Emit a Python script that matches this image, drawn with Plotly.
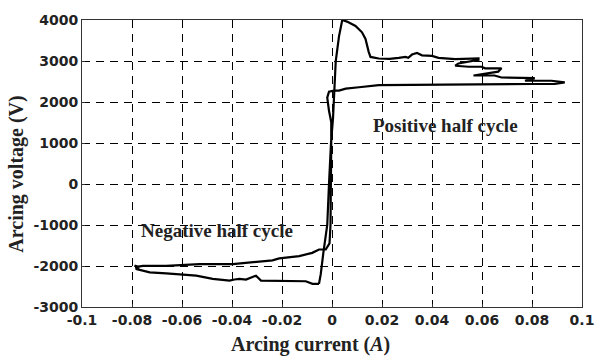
import plotly.graph_objects as go

# Arcing current (A) and arcing voltage (V) traced around the loop
current = [-0.0052, -0.0045, -0.0035, -0.0025, -0.0019, -0.0012, -0.0004, 0.0004, 0.0008, 0.0015,
           0.0028, 0.0041, 0.0060, 0.0094, 0.0120, 0.0134, 0.0147, 0.0154, 0.0187, 0.0230,
           0.0267, 0.0294, 0.0305, 0.0320, 0.0340, 0.0360, 0.0400, 0.0426, 0.0493, 0.0586,
           0.0586, 0.0506, 0.0493, 0.0546, 0.0599, 0.0612, 0.0678, 0.0665, 0.0566, 0.0650,
           0.0678, 0.0758, 0.0811, 0.0772, 0.0878, 0.0931, 0.0891, 0.0798, 0.0586, 0.0347,
           0.0187, 0.0108, 0.0055, 0.0028, 0.0008, -0.0012, -0.0019, -0.0012, -0.0003, -0.0003,
           -0.0004, -0.0006, -0.0010, -0.0025, -0.0052, -0.0079, -0.0131, -0.0211, -0.0238, -0.0331,
           -0.0397, -0.0530, -0.0663, -0.0756, -0.0782, -0.0790, -0.0770, -0.0785, -0.0782, -0.0729,
           -0.0663, -0.0610, -0.0543, -0.0477, -0.0410, -0.0390, -0.0370, -0.0344, -0.0304, -0.0284,
           -0.0198, -0.0105, -0.0078, -0.0052]
voltage = [-2434, -2200, -1700, -1300, -1000, 0, 1000, 1600, 2000, 3000,
           3600, 4000, 3960, 3856, 3700, 3538, 3218, 3099, 3061, 3050,
           3075, 3099, 3080, 3157, 3195, 3139, 3123, 3075, 3044, 3061,
           3030, 2941, 2884, 2860, 2860, 2822, 2822, 2741, 2646, 2646,
           2598, 2598, 2582, 2518, 2518, 2478, 2439, 2439, 2423, 2410,
           2410, 2359, 2327, 2279, 2279, 2249, 2105, 1785, 1508, 1000,
           0, -1000, -1450, -1598, -1598, -1679, -1758, -1813, -1861, -1918,
           -1956, -1956, -1997, -1997, -2021, -1990, -2040, -2000, -2075, -2157,
           -2180, -2212, -2236, -2314, -2355, -2330, -2314, -2331, -2236, -2355,
           -2372, -2372, -2434, -2434]

x_ticks = [-0.1, -0.08, -0.06, -0.04, -0.02, 0, 0.02, 0.04, 0.06, 0.08, 0.1]
x_tick_labels = ["-0.1", "-0.08", "-0.06", "-0.04", "-0.02", "0", "0.02", "0.04", "0.06", "0.08", "0.1"]
y_ticks = [-3000, -2000, -1000, 0, 1000, 2000, 3000, 4000]
y_tick_labels = ["-3000", "-2000", "-1000", "0", "1000", "2000", "3000", "4000"]

labels = ["Positive half cycle", "Negative half cycle"]
label_x = [0.0452, -0.046]
label_y = [1427, -1144]

fig = go.Figure()
fig.add_trace(go.Scatter(x=current, y=voltage, mode="lines",
                         line=dict(color="black", width=2.2), showlegend=False))

tickfont = dict(family="DejaVu Sans", size=14, color="#222")
serif = "Liberation Serif"

axis_common = dict(showline=True, linecolor="#333", linewidth=1, mirror=True,
                   ticks="inside", ticklen=3, tickcolor="#333",
                   showgrid=True, gridcolor="black", gridwidth=1, griddash="8px,6px",
                   zeroline=False, tickfont=tickfont)

fig.update_layout(
    width=606, height=357,
    margin=dict(l=82, r=22, t=14, b=50),
    paper_bgcolor="white", plot_bgcolor="white",
    xaxis=dict(range=[-0.1, 0.1], tickvals=x_ticks, ticktext=["<b>%s</b>" % t for t in x_tick_labels],
               **axis_common),
    yaxis=dict(range=[-3000, 4000], tickvals=y_ticks, ticktext=["<b>%s</b>" % t for t in y_tick_labels],
               **axis_common),
)

for t, lx, ly in zip(labels, label_x, label_y):
    fig.add_annotation(x=lx, y=ly, xref="x", yref="y", text="<b>%s</b>" % t, showarrow=False,
                       font=dict(family=serif, size=19, color="#222"))

fig.add_annotation(x=0.456, y=-0.13, xref="paper", yref="paper", xanchor="center", yanchor="middle",
                   text="<b>Arcing current (<i>A</i>)</b>", showarrow=False,
                   font=dict(family=serif, size=20, color="#222"))
fig.add_annotation(x=-0.13, y=0.461, xref="paper", yref="paper", xanchor="center", yanchor="middle",
                   text="<b>Arcing voltage (V)</b>", textangle=-90, showarrow=False,
                   font=dict(family=serif, size=20, color="#222"))

fig.write_html("out.html")
